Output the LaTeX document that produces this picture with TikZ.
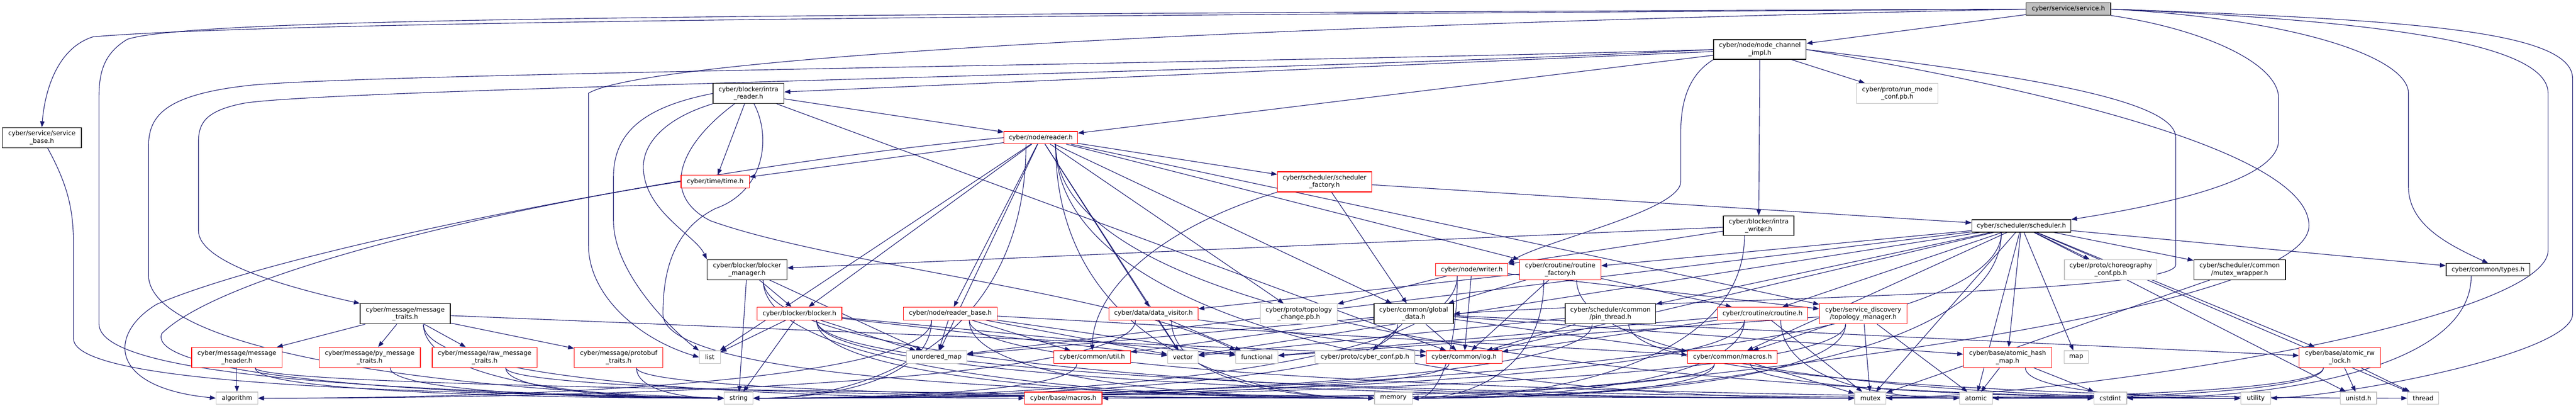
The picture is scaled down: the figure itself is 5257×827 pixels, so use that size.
\documentclass[tikz,border=0pt]{standalone}
\usepackage{fontspec}
\setmainfont{DejaVu Sans}
\usetikzlibrary{arrows.meta,calc,backgrounds}
\definecolor{edgec}{HTML}{191970}
\definecolor{gr}{HTML}{BFBFBF}
\tikzset{
 box/.style={draw, line width=1.3pt, fill=white, inner sep=0pt, align=center, font=\fontsize{12.9}{15.4}\selectfont},
 blk/.style={box, draw=black},
 redb/.style={box, draw=red},
 gryb/.style={box, draw=gr},
 rootb/.style={box, draw=black, fill=gr},
 edge/.style={draw=edgec, line width=1.2pt, -{Triangle[length=12pt,width=9pt]}},
}
\newcommand\nd[7]{\node[#1, minimum width=#5pt, minimum height=#6pt] (#2) at (#3,#4) {#7};}
\newcommand\eS[2]{\draw[edge] (#1) -- (#2);}
\newcommand\eL[3][0.7]{\draw[edge] let \p3=($(#2.south west)!#1!(#2.south east)$), \p2=(#3.west) in (\p3) .. controls (\x3,{\y3+0.75*((\y2)-(\y3))}) and ({\x2-0.45*((\x2)-(\x3))},\y2) .. (\p2);}
\newcommand\eR[3][0.3]{\draw[edge] let \p3=($(#2.south west)!#1!(#2.south east)$), \p2=(#3.east) in (\p3) .. controls (\x3,{\y3+0.75*((\y2)-(\y3))}) and ({\x2+0.45*((\x3)-(\x2))},\y2) .. (\p2);}
\begin{document}
\begin{tikzpicture}[x=1pt,y=-1pt]
\useasboundingbox (0,0) rectangle (5257,827);
% nodes
\nd{rootb}{svc}{4221}{18.5}{173}{25}{cyber/service/service.h}
\nd{blk}{sbase}{85.5}{280.5}{161}{41}{cyber/service/service\\\_base.h}
\nd{blk}{nci}{3591.5}{101}{189}{40}{cyber/node/node\_channel\\\_impl.h}
\nd{blk}{ireader}{1527.5}{190.5}{145}{41}{cyber/blocker/intra\\\_reader.h}
\nd{gryb}{runmode}{3872}{190.5}{166}{41}{cyber/proto/run\_mode\\\_conf.pb.h}
\nd{redb}{reader}{2124}{280.5}{150}{25}{cyber/node/reader.h}
\nd{redb}{time}{1459.5}{370}{139}{26}{cyber/time/time.h}
\nd{redb}{schfac}{2703}{370.5}{192}{41}{cyber/scheduler/scheduler\\\_factory.h}
\nd{blk}{iwriter}{3589}{460}{144}{40}{cyber/blocker/intra\\\_writer.h}
\nd{blk}{sched}{4125}{460.5}{202}{25}{cyber/scheduler/scheduler.h}
\nd{blk}{bmgr}{1524.5}{549.5}{163}{41}{cyber/blocker/blocker\\\_manager.h}
\nd{redb}{writer}{3003.5}{549.5}{147}{25}{cyber/node/writer.h}
\nd{redb}{rfac}{3184}{549.5}{166}{41}{cyber/croutine/routine\\\_factory.h}
\nd{gryb}{choreo}{4307.5}{549.5}{189}{41}{cyber/proto/choreography\\\_conf.pb.h}
\nd{blk}{mwrap}{4570.5}{549.5}{187}{41}{cyber/scheduler/common\\/mutex\_wrapper.h}
\nd{blk}{types}{5077.5}{549.5}{171}{25}{cyber/common/types.h}
\nd{blk}{mtraits}{827}{639.5}{184}{41}{cyber/message/message\\\_traits.h}
\nd{redb}{blocker}{1631.5}{639}{173}{26}{cyber/blocker/blocker.h}
\nd{redb}{rbase}{1939.5}{639}{191}{26}{cyber/node/reader\_base.h}
\nd{redb}{dvis}{2354}{639}{182}{26}{cyber/data/data\_visitor.h}
\nd{gryb}{topochg}{2650.5}{639.5}{157}{41}{cyber/proto/topology\\\_change.pb.h}
\nd{blk}{gdata}{2885}{639.5}{162}{41}{cyber/common/global\\\_data.h}
\nd{blk}{pin}{3286.5}{639.5}{185}{41}{cyber/scheduler/common\\/pin\_thread.h}
\nd{redb}{crout}{3597}{639}{184}{26}{cyber/croutine/croutine.h}
\nd{redb}{topomgr}{3802.5}{639.5}{179}{41}{cyber/service\_discovery\\/topology\_manager.h}
\nd{redb}{mheader}{483.5}{728.5}{185}{41}{cyber/message/message\\\_header.h}
\nd{redb}{pytraits}{754.5}{728.5}{207}{41}{cyber/message/py\_message\\\_traits.h}
\nd{redb}{rawtraits}{989}{728.5}{214}{41}{cyber/message/raw\_message\\\_traits.h}
\nd{redb}{pbtraits}{1262.5}{728.5}{181}{41}{cyber/message/protobuf\\\_traits.h}
\nd{gryb}{list}{1448.5}{728}{43}{26}{list}
\nd{gryb}{umap}{1911.5}{728}{123}{26}{unordered\_map}
\nd{redb}{util}{2229}{728}{156}{26}{cyber/common/util.h}
\nd{gryb}{vector}{2414}{728}{62}{26}{vector}
\nd{gryb}{functional}{2565}{728}{86}{26}{functional}
\nd{gryb}{cyberconf}{2785.5}{728}{203}{26}{cyber/proto/cyber\_conf.pb.h}
\nd{redb}{log}{2988}{728}{154}{26}{cyber/common/log.h}
\nd{redb}{cmacros}{3535.5}{728}{183}{26}{cyber/common/macros.h}
\nd{redb}{ahmap}{4097}{728.5}{180}{41}{cyber/base/atomic\_hash\\\_map.h}
\nd{gryb}{map}{4237}{728}{50}{26}{map}
\nd{redb}{arwlock}{4775}{728.5}{166}{41}{cyber/base/atomic\_rw\\\_lock.h}
\nd{gryb}{algorithm}{483.5}{811.5}{85}{25}{algorithm}
\nd{gryb}{string}{1507.5}{811.5}{59}{25}{string}
\nd{redb}{bmacros}{2170}{811.5}{158}{25}{cyber/base/macros.h}
\nd{gryb}{memory}{2843.5}{811.5}{77}{25}{memory}
\nd{gryb}{mutex}{3817}{811.5}{64}{25}{mutex}
\nd{gryb}{atomic}{4032.5}{811.5}{67}{25}{atomic}
\nd{gryb}{cstdint}{4306.5}{811.5}{67}{25}{cstdint}
\nd{gryb}{utility}{4603.5}{811.5}{61}{25}{utility}
\nd{gryb}{unistd}{4813}{811.5}{74}{25}{unistd.h}
\nd{gryb}{thread}{4945}{811.5}{64}{25}{thread}
\begin{pgfonlayer}{background}
\fill[white] (0,0) rectangle (5257,827);
% service.h
\draw[edge] (svc.west) .. controls (2500,30) and (600,40) .. (190,75) .. controls (110,100) and (90,200) .. (sbase.north);
\draw[edge] (svc.west) .. controls (1500,30) and (400,35) .. (260,80) .. controls (210,110) and (202,150) .. (202,200) -- (202,660) .. controls (202,760) and (700,795) .. (string.west);
\draw[edge] (svc.west) .. controls (2200,60) and (1300,130) .. (1201,190) -- (1201,500) .. controls (1201,600) and (1300,690) .. (list.west);
\draw[edge] (svc.east) .. controls (4800,40) and (5200,80) .. (5200,190) -- (5200,510) .. controls (5200,650) and (4300,800) .. (mutex.east);
\draw[edge] (svc.east) .. controls (4900,40) and (5250,60) .. (5250,160) -- (5250,640) .. controls (5250,720) and (4800,805) .. (utility.east);
\draw[edge] (svc.east) .. controls (4700,40) and (4915,120) .. (4915,190) -- (4915,380) .. controls (4915,460) and (5000,500) .. (types.north);
\draw[edge] (svc.south east) .. controls (4500,60) and (4650,130) .. (4650,200) -- (4650,286) .. controls (4650,370) and (4400,420) .. (sched.north east);
\eS{svc}{nci}
% service_base.h
\draw[edge] (sbase) .. controls (140,380) and (150,430) .. (150,500) -- (150,690) .. controls (150,790) and (900,800) .. (string.west);
% node_channel_impl.h
\eS{nci}{ireader}\eS{nci}{reader}\eS{nci}{runmode}\eS{nci}{iwriter}
\draw[edge] (nci.south west) .. controls (3450,150) and (3430,200) .. (3430,270) -- (3430,370) .. controls (3430,430) and (3150,490) .. (writer.north east);
\draw[edge] (nci.east) .. controls (4100,150) and (4440,200) .. (4440,280) -- (4440,540) .. controls (4440,600) and (3400,610) .. (gdata.east);
\draw[edge] (nci.east) .. controls (4100,170) and (4712,300) .. (4712,460) .. controls (4712,640) and (3400,790) .. (memory.east);
\draw[edge] (nci.west) .. controls (2500,150) and (700,180) .. (500,210) .. controls (420,225) and (405,250) .. (405,290) -- (405,470) .. controls (405,530) and (560,580) .. (mtraits.north west);
\draw[edge] (nci.west) .. controls (2500,130) and (700,150) .. (500,175) .. controls (330,195) and (303,240) .. (303,300) -- (303,560) .. controls (303,700) and (800,790) .. (string.west);
% intra_reader.h
\eS{ireader}{reader}\eS{ireader}{time}\eS{ireader}{log}
\draw[edge] (ireader.south west) .. controls (1360,240) and (1313,290) .. (1313,340) .. controls (1313,430) and (1420,480) .. (bmgr.north west);
\draw[edge] (ireader.west) .. controls (1330,215) and (1252,260) .. (1252,360) -- (1252,450) .. controls (1252,560) and (1380,680) .. (list.north west);
\draw[edge] (ireader) .. controls (1380,300) and (1350,400) .. (1450,450) .. controls (1700,540) and (2300,600) .. (functional.north west);
\draw[edge] (ireader) .. controls (1575,280) and (1560,390) .. (1460,425) .. controls (1370,470) and (1353,560) .. (1353,640) .. controls (1353,800) and (2500,800) .. (memory.west);
% reader.h
\eS{reader}{blocker}\eS{reader}{gdata}\eS{reader}{rfac}\eS{reader}{dvis}\eS{reader}{rbase}
\eS{reader}{topochg}\eS{reader}{schfac}\eS{reader}{topomgr}\eS{reader}{time}\eS{reader}{umap}
\eS{reader}{vector}\eS{reader}{list}
\eL{reader}{memory}\eL{reader}{mutex}\eL{reader}{utility}\eR{reader}{string}
\draw[edge] (reader.west) .. controls (1500,330) and (600,500) .. (320,620) .. controls (220,680) and (220,790) .. (algorithm.west);
% time.h
\draw[edge] (time.west) .. controls (1000,430) and (450,560) .. (330,680) .. controls (300,760) and (800,805) .. (string.west);
% scheduler_factory.h
\eS{schfac}{gdata}\eS{schfac}{sched}
\draw[edge] (schfac.south west) .. controls (2350,470) and (2230,600) .. (util.north);
% scheduler.h
\eS{sched}{choreo}\eS{sched}{mwrap}\eS{sched}{types}\eS{sched}{ahmap}\eS{sched}{map}
\eS{sched}{arwlock}\eS{sched}{unistd}\eS{sched}{thread}\eS{sched}{atomic}\eS{sched}{mutex}
\eS{sched}{pin}\eS{sched}{crout}\eS{sched}{rfac}\eS{sched}{cmacros}\eS{sched}{log}
\eS{sched}{umap}\eS{sched}{vector}
\eR{sched}{memory}\eR{sched}{string}
% intra_writer.h
\eS{iwriter}{bmgr}\eS{iwriter}{writer}\eR{iwriter}{memory}
% writer.h
\eS{writer}{log}\eS{writer}{topochg}\eS{writer}{topomgr}\eR{writer}{memory}\eR{writer}{string}
% routine_factory.h
\eS{rfac}{gdata}\eS{rfac}{log}\eS{rfac}{crout}\eS{rfac}{dvis}\eR{rfac}{memory}\eL{rfac}{utility}
% blocker_manager.h
\eS{bmgr}{blocker}\eS{bmgr}{string}\eS{bmgr}{umap}\eL{bmgr}{memory}\eL{bmgr}{mutex}
% blocker.h
\eS{blocker}{list}\eS{blocker}{string}\eS{blocker}{umap}\eS{blocker}{vector}\eS{blocker}{functional}
\eL{blocker}{memory}\eL{blocker}{mutex}\eL{blocker}{cstdint}
% reader_base.h
\eS{rbase}{umap}\eS{rbase}{util}\eS{rbase}{vector}\eS{rbase}{functional}\eS{rbase}{cmacros}
\eL{rbase}{memory}\eL{rbase}{utility}\eR{rbase}{string}\eR{rbase}{algorithm}
% data_visitor.h
\eS{dvis}{vector}\eS{dvis}{functional}\eS{dvis}{log}\eL{dvis}{memory}\eR{dvis}{algorithm}
% global_data.h
\eS{gdata}{cyberconf}\eS{gdata}{log}\eS{gdata}{cmacros}\eS{gdata}{util}\eS{gdata}{ahmap}
\eS{gdata}{arwlock}\eS{gdata}{umap}\eR{gdata}{string}
% pin_thread.h
\eS{pin}{log}\eS{pin}{vector}\eL{pin}{thread}\eR{pin}{string}
% croutine.h
\eS{crout}{log}\eS{crout}{mutex}\eS{crout}{functional}\eL{crout}{atomic}\eR{crout}{memory}\eR{crout}{string}
% topology_manager.h
\eS{topomgr}{cmacros}\eS{topomgr}{atomic}\eS{topomgr}{mutex}\eS{topomgr}{functional}
\eR{topomgr}{memory}\eR{topomgr}{string}
% message_traits.h
\eS{mtraits}{mheader}\eS{mtraits}{pytraits}\eS{mtraits}{rawtraits}\eS{mtraits}{pbtraits}\eS{mtraits}{log}
\eL{mtraits}{bmacros}\eL{mtraits}{string}
% message headers
\eS{mheader}{algorithm}\eL{mheader}{string}\eL{mheader}{cstdint}
\eL{pytraits}{string}
\eL{rawtraits}{memory}\eL{rawtraits}{string}
\eL{pbtraits}{memory}\eL{pbtraits}{string}
% util, log
\eR{util}{string}\eR{log}{string}
% common/macros.h
\eS{cmacros}{mutex}\eR{cmacros}{bmacros}\eR{cmacros}{memory}\eL{cmacros}{utility}
% atomic_hash_map.h
\eS{ahmap}{atomic}\eS{ahmap}{cstdint}\eL{ahmap}{utility}
% atomic_rw_lock.h
\eS{arwlock}{unistd}\eS{arwlock}{thread}\eR{arwlock}{atomic}\eR{arwlock}{mutex}
% others
\eS{mwrap}{mutex}\eR{types}{cstdint}
\end{pgfonlayer}
\end{tikzpicture}
\end{document}
